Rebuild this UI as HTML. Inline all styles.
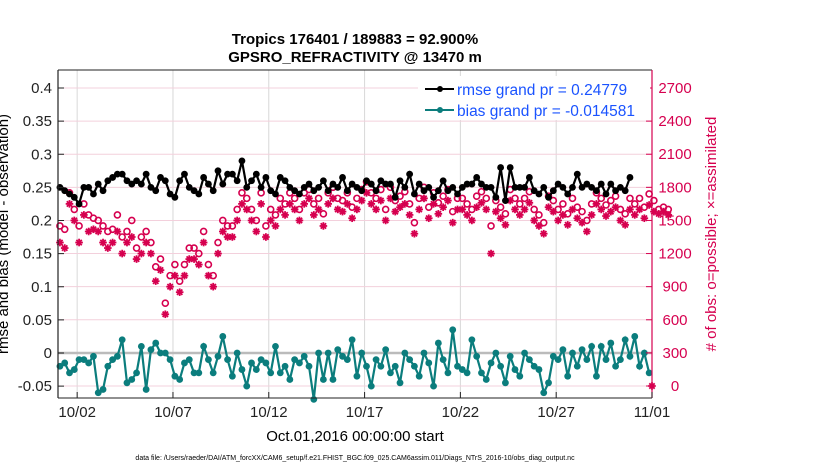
<!DOCTYPE html>
<html><head><meta charset="utf-8"><style>
body{margin:0;background:#fff;width:830px;height:470px;overflow:hidden;font-family:"Liberation Sans",sans-serif}
</style></head><body>
<svg id="c" width="830" height="470" xmlns="http://www.w3.org/2000/svg" font-family="Liberation Sans, sans-serif"></svg>
<script>
const rmse=[0.25,0.245,0.24,0.235,0.225,0.25,0.25,0.24,0.255,0.245,0.26,0.265,0.27,0.27,0.26,0.255,0.26,0.255,0.27,0.25,0.245,0.265,0.26,0.24,0.235,0.26,0.27,0.25,0.245,0.24,0.265,0.255,0.245,0.275,0.255,0.27,0.27,0.26,0.29,0.25,0.26,0.27,0.25,0.265,0.245,0.24,0.265,0.26,0.25,0.245,0.24,0.25,0.255,0.245,0.25,0.26,0.245,0.255,0.25,0.265,0.245,0.255,0.25,0.245,0.26,0.255,0.245,0.26,0.255,0.255,0.235,0.26,0.25,0.27,0.24,0.255,0.245,0.25,0.235,0.245,0.26,0.245,0.25,0.24,0.25,0.255,0.255,0.265,0.255,0.25,0.25,0.235,0.28,0.23,0.28,0.25,0.25,0.25,0.265,0.245,0.24,0.25,0.235,0.245,0.255,0.25,0.24,0.25,0.27,0.25,0.255,0.25,0.245,0.255,0.24,0.255,0.245,0.25,0.245,0.265];
const bias=[-0.02,-0.015,-0.03,-0.025,-0.01,-0.01,-0.015,-0.005,-0.06,-0.055,-0.02,-0.01,-0.005,0.02,-0.045,-0.04,-0.03,0.01,-0.055,0.005,0.015,0.0,0.0,-0.01,-0.035,-0.04,-0.015,-0.01,-0.03,-0.03,0.01,-0.01,-0.03,-0.005,0.025,-0.01,-0.035,0.0,-0.025,-0.05,-0.015,-0.025,-0.01,-0.015,-0.03,0.01,-0.03,-0.02,-0.04,-0.01,-0.015,-0.005,-0.02,-0.07,0.0,-0.04,0.0,-0.04,0.005,-0.005,-0.01,0.02,-0.035,0.0,-0.02,-0.05,-0.01,-0.02,0.005,-0.03,-0.02,-0.045,0.0,-0.01,-0.02,-0.035,0.0,-0.015,-0.05,0.015,-0.01,-0.03,0.035,-0.02,-0.025,-0.03,0.02,-0.005,-0.03,-0.04,-0.015,0.0,-0.02,-0.045,-0.005,-0.025,-0.035,0.0,-0.01,-0.02,-0.025,-0.06,-0.045,-0.005,-0.01,0.005,-0.035,0.0,-0.02,0.005,-0.01,0.01,-0.035,0.01,-0.01,0.015,-0.02,-0.01,0.02,-0.005,0.025,-0.02,0.0,-0.03];
const possible=[1450,1420,1750,1600,1450,1650,1550,1520,1500,1450,1400,1420,1550,1350,1400,1500,1250,1350,1400,1300,1080,1150,750,1000,1100,950,1100,1250,1250,1200,1400,1100,1000,1300,1500,1450,1450,1600,1750,1700,1600,1500,1750,1450,1600,1550,1700,1650,1750,1700,1600,1750,1780,1650,1700,1560,1750,1800,1700,1680,1750,1620,1700,1780,1850,1750,1700,1780,1600,1800,1680,1720,1760,1650,1480,1700,1800,1620,1750,1660,1720,1780,1580,1700,1700,1650,1600,1720,1760,1700,1450,1680,1620,1560,1780,1700,1650,1700,1760,1600,1550,1480,1720,1680,1600,1650,1560,1700,1620,1580,1500,1650,1750,1700,1640,1680,1720,1600,1560,1700,1650,1700,1620,1740,1680,1600,1620,1600];
const assimilated=[1300,1250,1650,1500,1300,1550,1400,1420,1400,1300,1250,1300,1400,1200,1300,1350,1150,1200,1300,1200,950,1050,650,900,1000,850,1000,1150,1150,1100,1300,1000,900,1200,1400,1350,1350,1500,1650,1600,1500,1400,1650,1350,1500,1450,1600,1550,1650,1600,1500,1650,1700,1550,1600,1450,1650,1700,1600,1580,1650,1520,1600,1680,1750,1650,1600,1680,1500,1700,1580,1620,1650,1550,1380,1600,1700,1520,1650,1560,1620,1680,1480,1600,1600,1550,1500,1620,1660,1600,1200,1580,1520,1460,1680,1600,1550,1600,1660,1500,1450,1380,1620,1580,1500,1550,1460,1600,1520,1480,1400,1550,1650,1600,1540,1580,1620,1500,1460,1600,1550,1600,1520,1640,1580,1560,1580,1550];
const leftTicks=[-0.05,0,0.05,0.1,0.15,0.2,0.25,0.3,0.35,0.4];
const leftTickLabels=["-0.05","0","0.05","0.1","0.15","0.2","0.25","0.3","0.35","0.4"];
const rightTicks=[0,300,600,900,1200,1500,1800,2100,2400,2700];
const xTickDays=[1,6,11,16,21,26,31];
const xTickLabels=["10/02","10/07","10/12","10/17","10/22","10/27","11/01"];

const L=58,R=652,T=70,B=398;
const X=d=>L+d*(R-L)/31;
const YL=v=>353-v*662.5;
const YR=v=>386-v*(298/2700);
const svg=document.getElementById('c');
const NS='http://www.w3.org/2000/svg';
function mk(tag,attrs,parent){const e=document.createElementNS(NS,tag);for(const k in attrs)e.setAttribute(k,attrs[k]);(parent||svg).appendChild(e);return e;}
function txt(s,attrs){const e=mk('text',attrs);e.textContent=s;return e;}

xTickDays.forEach(d=>{const g=mk('line',{x1:X(d),x2:X(d),y1:T,y2:B,stroke:'#d8d8d8','stroke-width':1});

});
rightTicks.forEach(v=>{const g=mk('line',{x1:L,x2:R,y1:YR(v),y2:YR(v),stroke:'#f3d0dc','stroke-width':1});

});
const z=mk('line',{x1:L,x2:R,y1:YL(0),y2:YL(0),stroke:'#bbbbbb','stroke-width':2.5});



const xi=i=>X(i*0.25+0.1);
possible.forEach((v,i)=>{const c=mk('circle',{cx:xi(i),cy:YR(v),r:3,fill:'none',stroke:'#d6004f','stroke-width':1.6});

});
function star(x,y){const g=mk('g',{stroke:'#d6004f','stroke-width':1.8});


for(let a=0;a<4;a++){const t=a*Math.PI/4;mk('line',{x1:x-3.8*Math.cos(t),y1:y-3.8*Math.sin(t),x2:x+3.8*Math.cos(t),y2:y+3.8*Math.sin(t)},g);}}
assimilated.forEach((v,i)=>star(xi(i),YR(v)));
star(X(31),YR(0));

function series(arr,col,name){const p=mk('polyline',{points:arr.map((v,i)=>xi(i)+','+YL(v)).join(' '),fill:'none',stroke:col,'stroke-width':2.2});


arr.forEach((v,i)=>{const c=mk('circle',{cx:xi(i),cy:YL(v),r:3.4,fill:col});

});}
series(rmse,'#000','rmse');
series(bias,'#0b7d7d','bias');

mk('line',{x1:L,x2:R,y1:T,y2:T,stroke:'#222','stroke-width':1});
mk('line',{x1:L,x2:R,y1:B,y2:B,stroke:'#222','stroke-width':1});
mk('line',{x1:L,x2:L,y1:T,y2:B,stroke:'#222','stroke-width':1.2});
mk('line',{x1:R,x2:R,y1:T,y2:B,stroke:'#d6004f','stroke-width':1.2});

leftTicks.forEach((v,i)=>{mk('line',{x1:L,x2:L+6,y1:YL(v),y2:YL(v),stroke:'#222'});
const t=txt(leftTickLabels[i],{x:L-6,y:YL(v)+5,'font-size':15,'text-anchor':'end',fill:'#222'});

});
rightTicks.forEach(v=>{mk('line',{x1:R-6,x2:R,y1:YR(v),y2:YR(v),stroke:'#d6004f'});
const t=txt(String(v),{x:R+23,y:YR(v)+5,'font-size':15,'text-anchor':'middle',fill:'#d6004f'});

});
xTickDays.forEach((d,i)=>{mk('line',{x1:X(d),x2:X(d),y1:B-6,y2:B,stroke:'#222'});
const t=txt(xTickLabels[i],{x:X(d),y:417,'font-size':15,'text-anchor':'middle',fill:'#222'});

});
</script>
<svg style="position:absolute;left:0;top:0" width="830" height="470" xmlns="http://www.w3.org/2000/svg" font-family="Liberation Sans, sans-serif">
<text x="355" y="44" font-size="15" font-weight="bold" text-anchor="middle">Tropics 176401 / 189883 = 92.900%</text>
<text x="355" y="62" font-size="15" font-weight="bold" text-anchor="middle">GPSRO_REFRACTIVITY @ 13470 m</text>
<g>
<rect x="418" y="76" width="232" height="44" fill="#fff"/>
<line x1="425" y1="89" x2="454" y2="89" stroke="#000" stroke-width="2"/><circle cx="440" cy="89" r="3" fill="#000"/>
<text x="457" y="95" font-size="15.5" fill="#1a53ff">rmse grand pr = 0.24779</text>
<line x1="425" y1="110" x2="454" y2="110" stroke="#0b7d7d" stroke-width="2"/><circle cx="440" cy="110" r="3" fill="#0b7d7d"/>
<text x="457" y="116" font-size="15.5" fill="#1a53ff">bias grand pr = -0.014581</text>
</g>
<text transform="translate(8,234) rotate(-90)" font-size="15" text-anchor="middle">rmse and bias (model - observation)</text>
<text transform="translate(716,234) rotate(-90)" font-size="15" text-anchor="middle" fill="#d6004f"># of obs: o=possible; ×=assimilated</text>
<text x="355" y="441" font-size="15" text-anchor="middle">Oct.01,2016 00:00:00 start</text>
<text x="355" y="460" font-size="7" text-anchor="middle">data file: /Users/raeder/DAI/ATM_forcXX/CAM6_setup/f.e21.FHIST_BGC.f09_025.CAM6assim.011/Diags_NTrS_2016-10/obs_diag_output.nc</text>
</svg>
</body></html>
